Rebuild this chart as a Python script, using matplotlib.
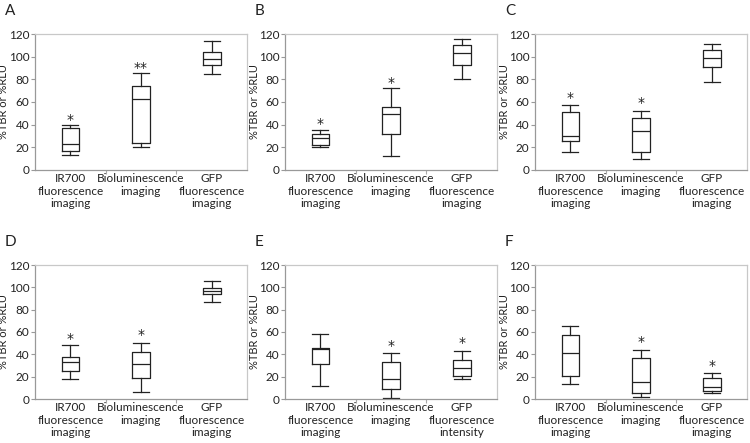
import matplotlib
matplotlib.use("Agg")
from matplotlib import pyplot as plt

plt.rcParams['font.family'] = ['Lato', 'DejaVu Sans']

categories = ["IR700\nfluorescence\nimaging", "Bioluminescence\nimaging", "GFP\nfluorescence\nimaging"]
categories_e = ["IR700\nfluorescence\nimaging", "Bioluminescence\nimaging", "GFP\nfluorescence\nintensity"]

# box stats per panel: (whislo, q1, median, q3, whishi) for each category
panel_a = [(13, 17, 23, 37, 40), (20, 23.5, 63, 74, 85.5), (85, 93, 98, 104, 114)]
panel_b = [(20.5, 22.5, 28, 31.5, 35), (12.5, 32, 49, 56, 72), (80, 93, 103.5, 110.5, 116)]
panel_c = [(15.5, 25.5, 30, 51.5, 57), (10, 16, 34, 45.5, 52.5), (78, 91, 98.5, 105.5, 111)]
panel_d = [(18, 25, 33, 37.5, 48), (6.5, 19, 31, 42, 50.5), (86.5, 94, 96.5, 99.5, 106)]
panel_e = [(12, 31, 44.5, 46, 58), (1, 9, 18, 33.5, 41), (17.5, 20.5, 28, 35, 43)]
panel_f = [(13, 21, 41, 57.5, 65.5), (1.5, 5.5, 15.5, 36.5, 44), (5.5, 7, 10.5, 18.5, 23.5)]

# significance marks: (label, y) per category, None for no mark
stars_a = [("*", 48), ("**", 94), None]
stars_b = [("*", 44), ("*", 81), None]
stars_c = [("*", 67), ("*", 63), None]
stars_d = [("*", 58), ("*", 61), None]
stars_e = [None, ("*", 51), ("*", 54)]
stars_f = [None, ("*", 54.5), ("*", 33)]

panels = [
    ("A", panel_a, stars_a, categories),
    ("B", panel_b, stars_b, categories),
    ("C", panel_c, stars_c, categories),
    ("D", panel_d, stars_d, categories),
    ("E", panel_e, stars_e, categories_e),
    ("F", panel_f, stars_f, categories),
]

W, H = 750, 443
fig = plt.figure(figsize=(W / 100, H / 100), dpi=100)

col_left = [35, 285, 535]
ax_w = 212
row_top = [34, 265]
ax_h = [136, 134]
STAR_FS = 10

for i, (letter, stats, stars, labels) in enumerate(panels):
    r, c = divmod(i, 3)
    left = col_left[c]
    top = row_top[r]
    h = ax_h[r]
    ax = fig.add_axes([left / W, 1 - (top + h) / H, ax_w / W, h / H])

    bxp = []
    for (lo, q1, med, q3, hi) in stats:
        bxp.append({"whislo": lo, "q1": q1, "med": med, "q3": q3, "whishi": hi, "fliers": []})
    pos = [0.5, 1.5, 2.5]
    ax.bxp(bxp, positions=pos, widths=0.25, showfliers=False,
           boxprops=dict(color="#222222", linewidth=0.9),
           medianprops=dict(color="#222222", linewidth=0.9),
           whiskerprops=dict(color="#222222", linewidth=0.9),
           capprops=dict(color="#222222", linewidth=0.9),
           capwidths=0.23)

    for p, s in zip(pos, stars):
        if s is not None:
            ax.annotate(s[0], (p, s[1]), xytext=(0, -0.6 * STAR_FS), textcoords="offset points",
                        ha="center", va="baseline", fontsize=STAR_FS, color="#222222",
                        family="DejaVu Sans")

    ax.set_xlim(0, 3)
    ax.set_ylim(0, 120)
    ax.set_yticks(range(0, 121, 20))
    ax.set_xticks([1, 2])
    ax.set_xticklabels([])
    ax.set_xticks(pos, minor=True)
    ax.set_xticklabels(labels, minor=True, fontsize=8.5, linespacing=1.2, color="#222222")
    ax.tick_params(axis="x", which="minor", length=0, pad=2)
    ax.tick_params(axis="x", which="major", length=3, color="#aaaaaa")
    ax.tick_params(axis="y", length=3, color="#999999", labelsize=8.5, labelcolor="#222222", pad=1)
    for sp in ax.spines.values():
        sp.set_color("#c8c8c8")
        sp.set_linewidth(0.9)
    ax.spines["left"].set_color("#999999")
    ax.spines["bottom"].set_color("#999999")
    ax.set_ylabel("%TBR or %RLU", fontsize=8, color="#222222")
    ax.yaxis.set_label_coords(-25.5 / ax_w, 0.5)

    fig.text((left - 30) / W, 1 - (top - 23) / H, letter, fontsize=11,
             ha="left", va="center", color="#222222")

fig.savefig("out.png", dpi=100)
